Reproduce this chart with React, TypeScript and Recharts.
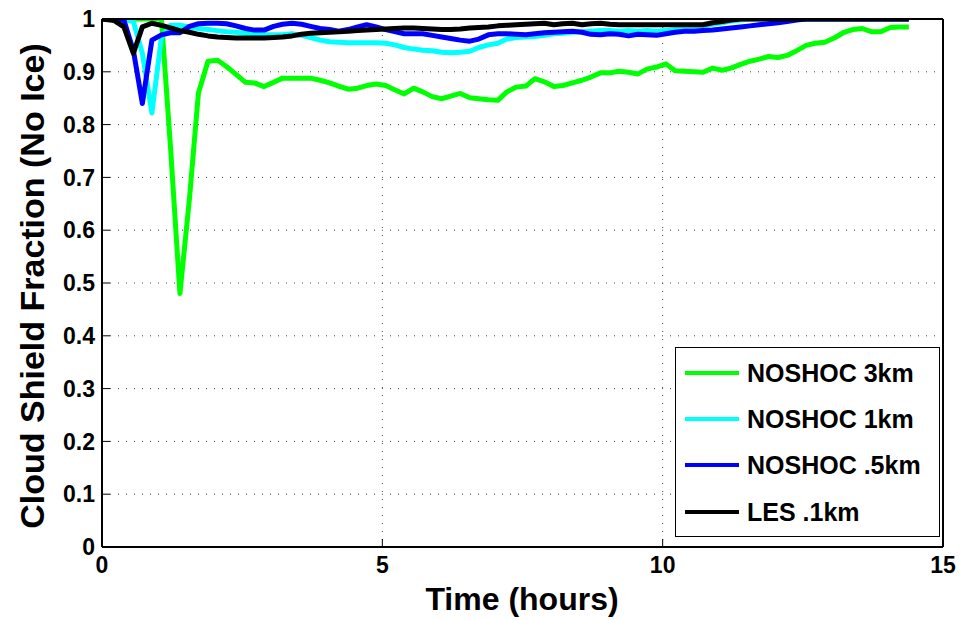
import React from 'react';
import { LineChart, Line, XAxis, YAxis, CartesianGrid, Label } from 'recharts';

const FONT = '"Liberation Sans", Arial, Helvetica, sans-serif';

// Time (hours)
const time = [
  0, 0.22, 0.39, 0.56, 0.72, 0.89,
  1.06, 1.22, 1.39, 1.56, 1.72, 1.89,
  2.06, 2.22, 2.39, 2.56, 2.72, 2.89,
  3.06, 3.22, 3.39, 3.56, 3.72, 3.89,
  4.06, 4.22, 4.39, 4.56, 4.72, 4.89,
  5.06, 5.22, 5.39, 5.56, 5.72, 5.89,
  6.06, 6.22, 6.39, 6.56, 6.72, 6.89,
  7.06, 7.22, 7.39, 7.56, 7.72, 7.89,
  8.06, 8.22, 8.39, 8.56, 8.72, 8.89,
  9.06, 9.22, 9.39, 9.56, 9.72, 9.89,
  10.06, 10.22, 10.39, 10.56, 10.72, 10.89,
  11.06, 11.22, 11.39, 11.56, 11.72, 11.89,
  12.06, 12.22, 12.39, 12.56, 12.72, 12.89,
  13.06, 13.22, 13.39, 13.56, 13.72, 13.89,
  14.06, 14.22, 14.39,
];

const noshoc3km = [
  1, 1, 1, 1, 1, 1,
  1, 0.76, 0.48, 0.66, 0.86, 0.92,
  0.922, 0.91, 0.895, 0.88, 0.879, 0.872,
  0.88, 0.888, 0.888, 0.888, 0.888, 0.884,
  0.879, 0.873, 0.867, 0.869, 0.874, 0.877,
  0.874, 0.866, 0.858, 0.869, 0.862, 0.853,
  0.849, 0.854, 0.859, 0.851, 0.849, 0.847,
  0.846, 0.862, 0.871, 0.873, 0.887, 0.881,
  0.872, 0.874, 0.879, 0.884, 0.89, 0.898,
  0.898, 0.901, 0.899, 0.896, 0.905, 0.909,
  0.915, 0.902, 0.901, 0.9, 0.899, 0.907,
  0.903, 0.907, 0.914, 0.92, 0.924, 0.929,
  0.927, 0.931, 0.94, 0.95, 0.954, 0.956,
  0.964, 0.974, 0.98, 0.982, 0.976, 0.976,
  0.984, 0.985, 0.985,
];

const noshoc1km = [
  1, 1, 1, 0.995, 0.935, 0.822,
  0.965, 0.988, 0.988, 0.985, 0.982, 0.98,
  0.978, 0.976, 0.975, 0.973, 0.971, 0.97,
  0.97, 0.97, 0.972, 0.969, 0.965, 0.96,
  0.957, 0.956, 0.955, 0.955, 0.955, 0.955,
  0.954, 0.951, 0.946, 0.943, 0.941, 0.94,
  0.937, 0.936, 0.937, 0.939, 0.946, 0.951,
  0.954, 0.962, 0.965, 0.966, 0.967, 0.969,
  0.972, 0.973, 0.975, 0.976, 0.977, 0.978,
  0.978, 0.977, 0.978, 0.977, 0.978, 0.977,
  0.978, 0.98, 0.982, 0.985, 0.987, 0.99,
  0.993, 0.996, 0.998, 1, 1, 1,
  1, 1, 1, 1, 1, 1,
  1, 1, 1, 1, 1, 1,
  1, 1, 1,
];

const noshoc05km = [
  1, 1, 0.998, 0.94, 0.84, 0.96,
  0.97, 0.974, 0.974, 0.986, 0.991, 0.992,
  0.992, 0.991, 0.987, 0.982, 0.979, 0.979,
  0.986, 0.99, 0.992, 0.99, 0.986, 0.982,
  0.98, 0.977, 0.98, 0.985, 0.989, 0.985,
  0.98, 0.976, 0.972, 0.972, 0.972, 0.969,
  0.966, 0.963, 0.96, 0.958, 0.962, 0.97,
  0.972, 0.972, 0.971, 0.97, 0.972, 0.974,
  0.975, 0.976, 0.977, 0.975, 0.971, 0.97,
  0.972, 0.971, 0.968, 0.971, 0.97, 0.969,
  0.972, 0.975, 0.977, 0.977, 0.978, 0.979,
  0.981, 0.983, 0.985, 0.987, 0.989, 0.991,
  0.993, 0.995, 0.998, 1, 1, 1,
  1, 1, 1, 1, 1, 1,
  1, 1, 1,
];

const les01km = [
  1, 0.997, 0.985, 0.935, 0.985, 0.992,
  0.988, 0.983, 0.978, 0.975, 0.971, 0.968,
  0.966, 0.965, 0.964, 0.964, 0.964, 0.964,
  0.965, 0.966, 0.968, 0.971, 0.973, 0.974,
  0.975, 0.976, 0.977, 0.978, 0.979, 0.98,
  0.981, 0.982, 0.983, 0.983, 0.982, 0.981,
  0.98, 0.98, 0.981, 0.983, 0.984, 0.985,
  0.987, 0.988, 0.989, 0.99, 0.991, 0.992,
  0.989, 0.991, 0.992, 0.989, 0.991, 0.992,
  0.99, 0.989, 0.989, 0.989, 0.989, 0.989,
  0.989, 0.989, 0.989, 0.989, 0.989, 0.993,
  0.995, 0.998, 1, 1, 1, 1,
  1, 1, 1, 1, 1, 1,
  1, 1, 1, 1, 1, 1,
  1, 1, 1,
];

const xTicks = [0, 5, 10, 15];
const yTicks = [0, 0.1, 0.2, 0.3, 0.4, 0.5, 0.6, 0.7, 0.8, 0.9, 1];
const yTickLabels = ['0', '0.1', '0.2', '0.3', '0.4', '0.5', '0.6', '0.7', '0.8', '0.9', '1'];

const seriesKeys = ['g', 'c', 'b', 'k'];
const seriesNames = ['NOSHOC 3km', 'NOSHOC 1km', 'NOSHOC .5km', 'LES .1km'];
const seriesColors = ['#00ff00', '#00ffff', '#0000ff', '#000000'];
const seriesValues = [noshoc3km, noshoc1km, noshoc05km, les01km];

const data = time.map((t, i) => {
  const row: Record<string, number> = { t };
  seriesKeys.forEach((k, j) => {
    row[k] = seriesValues[j][i];
  });
  return row;
});

const tickStyle = { fill: '#000', fontSize: 23, fontWeight: 700, fontFamily: FONT };
const axisLineStyle = { stroke: '#000', strokeWidth: 2 };
const tickLineStyle = { stroke: '#000', strokeWidth: 1 };

function LegendBox() {
  const rowCenters = [26, 72, 118, 165];
  return (
    <div
      style={{
        position: 'absolute',
        left: 667,
        top: 347,
        width: 265,
        height: 190,
        boxSizing: 'border-box',
        border: '1.5px solid #000',
        background: '#fff',
        fontFamily: FONT,
      }}
    >
      {seriesNames.map((name, i) => (
        <React.Fragment key={name}>
          <div
            style={{
              position: 'absolute',
              left: 9,
              top: rowCenters[i] - 2 - 1.5,
              width: 54,
              height: 4,
              background: seriesColors[i],
            }}
          />
          <div
            style={{
              position: 'absolute',
              left: 71,
              top: rowCenters[i] - 15 - 1.5,
              height: 30,
              lineHeight: '30px',
              fontSize: 25,
              fontWeight: 700,
              color: '#000',
              whiteSpace: 'nowrap',
            }}
          >
            {name}
          </div>
        </React.Fragment>
      ))}
    </div>
  );
}

export default function App() {
  return (
    <div style={{ position: 'absolute', left: 8, top: 0, width: 960, height: 620 }}>
      <LineChart width={960} height={620} data={data} margin={{ top: 8, right: 0, bottom: 0, left: 0 }}>
        <CartesianGrid stroke="#444" strokeWidth={1} strokeDasharray="1 7" />
        <XAxis
          dataKey="t"
          type="number"
          domain={[0, 15]}
          ticks={xTicks}
          interval={0}
          height={73}
          tickSize={-8}
          tickMargin={18}
          axisLine={axisLineStyle}
          tickLine={tickLineStyle}
          tick={tickStyle}
        >
          <Label
            content={() => (
              <text
                x={514}
                y={610}
                textAnchor="middle"
                style={{ fontFamily: FONT, fontWeight: 700, fontSize: 32, fill: '#000' }}
              >
                Time (hours)
              </text>
            )}
          />
        </XAxis>
        <XAxis
          xAxisId="t"
          dataKey="t"
          type="number"
          orientation="top"
          domain={[0, 15]}
          ticks={xTicks}
          interval={0}
          height={11}
          tickSize={-8}
          tick={false}
          axisLine={axisLineStyle}
          tickLine={tickLineStyle}
        />
        <YAxis
          type="number"
          domain={[0, 1]}
          ticks={yTicks}
          interval={0}
          allowDataOverflow
          width={94}
          tickSize={-8}
          tickMargin={15}
          axisLine={axisLineStyle}
          tickLine={tickLineStyle}
          tick={tickStyle}
          tickFormatter={(v: number) => yTickLabels[yTicks.indexOf(v)] ?? String(v)}
        >
          <Label
            content={() => (
              <text
                x={36}
                y={286}
                transform="rotate(-90 36 286)"
                textAnchor="middle"
                style={{ fontFamily: FONT, fontWeight: 700, fontSize: 34, fill: '#000' }}
              >
                Cloud Shield Fraction (No Ice)
              </text>
            )}
          />
        </YAxis>
        <YAxis
          yAxisId="r"
          type="number"
          orientation="right"
          domain={[0, 1]}
          ticks={yTicks}
          interval={0}
          width={25}
          tickSize={-8}
          tick={false}
          axisLine={axisLineStyle}
          tickLine={tickLineStyle}
        />
        {seriesKeys.map((k, j) => (
          <Line
            key={k}
            dataKey={k}
            name={seriesNames[j]}
            stroke={seriesColors[j]}
            strokeWidth={5}
            strokeLinejoin="round"
            dot={false}
            activeDot={false}
            isAnimationActive={false}
          />
        ))}
      </LineChart>
      <LegendBox />
    </div>
  );
}
